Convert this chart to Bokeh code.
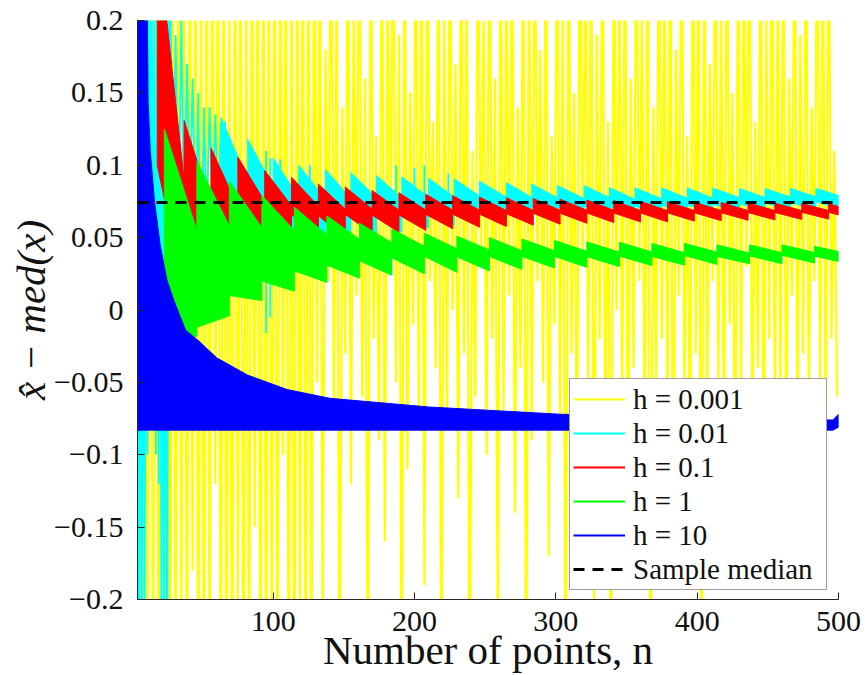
from bokeh.plotting import figure
from bokeh.models import (Range1d, FixedTicker, CustomJSTickFormatter, Span,
                          Legend, LegendItem)
from bokeh.embed import file_html
from bokeh.resources import INLINE

# ---------------- data ----------------
x_start, x_end = 4, 500
y_start, y_end = -0.2, 0.2
x_ticks = [100, 200, 300, 400, 500]
y_ticks = [-0.2, -0.15, -0.1, -0.05, 0, 0.05, 0.1, 0.15, 0.2]
series_labels = ["h = 0.001", "h = 0.01", "h = 0.1", "h = 1", "h = 10", "Sample median"]
x_title = "Number of points, n"
y_title = "x\u0302 \u2212 med(x)"
median_value = 0.0743

# h = 0.001 : strongly oscillating estimate (one value every 2nd n from n = 5)
yellow_v = [
    0.30, -0.30, 0.30, -0.30, 0.30, -0.28, 0.30, -0.30, 0.30, -0.25,
    0.30, -0.30, 0.28, -0.30, 0.30, -0.22, 0.30, -0.30, 0.30, -0.18,
    0.30, -0.30, 0.26, -0.30, 0.30, -0.26, 0.30, -0.12, 0.30, -0.30,
    0.30, -0.30, 0.22, -0.30, 0.30, -0.20, 0.30, -0.30, 0.24, -0.30,
    0.30, -0.15, 0.30, -0.30, 0.30, -0.30, 0.27, -0.24, 0.30, -0.30,
    0.30, -0.10, 0.30, -0.30, 0.25, -0.30, 0.30, -0.21, 0.30, -0.30,
    0.30, -0.30, 0.30,
    -0.05, 0.30, -0.22, 0.18, 0.02, 0.30, -0.08, 0.25, -0.30, 0.14,
    -0.03, 0.30, -0.12, 0.22, 0.01, 0.30, -0.06, 0.16, -0.30, 0.30,
    -0.02, 0.12, -0.09, 0.30, -0.16, 0.24, 0.03, 0.30, -0.05, 0.19,
    -0.30, 0.30, -0.11, 0.15, -0.01, 0.30, -0.07, 0.27, -0.19, 0.30,
    0.02, 0.13, -0.04, 0.30, -0.30, 0.21, -0.08, 0.30, 0.00, 0.17,
    -0.13, 0.30, -0.03, 0.25, -0.30, 0.11, -0.06, 0.30, 0.03, 0.20,
    -0.10, 0.30, -0.02, 0.16, -0.25, 0.30, -0.07, 0.23, 0.01, 0.30,
    -0.14, 0.14, -0.04, 0.30, -0.30, 0.26, -0.09, 0.30, 0.02, 0.18,
    -0.05, 0.30, -0.17, 0.12, -0.01, 0.30, -0.08, 0.22, -0.30, 0.30,
    -0.03, 0.15, -0.12, 0.30, 0.03, 0.27, -0.06, 0.30, -0.21, 0.19,
    -0.02, 0.30, -0.10, 0.13, -0.30, 0.30, 0.00, 0.24, -0.07, 0.30,
    -0.15, 0.16, -0.04, 0.30, 0.02, 0.21, -0.11, 0.30, -0.30, 0.14,
    -0.05, 0.30, -0.02, 0.25, -0.09, 0.30, -0.18, 0.18, 0.01, 0.30,
    -0.06, 0.12, -0.13, 0.30, -0.03, 0.28, -0.30, 0.30, -0.08, 0.17,
    0.02, 0.30, -0.05, 0.22, -0.11, 0.30, -0.01, 0.15, -0.16, 0.30,
    -0.07, 0.26, 0.03, 0.30, -0.10, 0.13, -0.04, 0.30, -0.14, 0.20,
    -0.02, 0.30, -0.08, 0.24, -0.06, 0.30, -0.12, 0.16, 0.01, 0.30,
    -0.09, 0.19, -0.03, 0.30, -0.07, 0.14, 0.02, 0.30, -0.05, 0.27,
    -0.11, 0.30, -0.02, 0.11, -0.06,
]
yellow_n = list(range(5, 5 + 2 * len(yellow_v), 2))

# h = 0.01 : early oscillation, then saw-tooth band
cyan_early_n = [4, 5, 6, 7, 8, 9, 10, 11, 12, 13, 14, 15, 16, 17, 18, 19, 20, 21,
                22, 23, 24, 25, 26, 27]
cyan_early_v = [0.3, -0.3, 0.3, -0.3, 0.3, -0.3, 0.3, -0.1, 0.3, -0.05, 0.3, -0.08,
                0.25, -0.1, 0.22, -0.12, 0.24, -0.3, 0.23, -0.3, 0.3, -0.3, 0.25, 0.1]
cyan_zig_n = [27, 29, 31, 33, 35, 37, 39, 41, 43, 45, 47, 49, 51, 53, 55, 57, 59, 61, 63]
cyan_zig_v = [0.25, 0.06, 0.19, 0.05, 0.20, 0.06, 0.17, 0.07, 0.16, 0.05, 0.15, -0.01,
              0.14, 0.06, 0.14, 0.07, 0.135, 0.06, 0.13]
cyan_start = [63, 82, 100, 118, 137, 155, 173, 191, 210, 228, 246, 265,
              283, 301, 320, 338, 356, 375, 393, 411, 430, 448, 466, 484]
cyan_top0 = [0.133, 0.118, 0.105, 0.100, 0.097, 0.095, 0.093, 0.092,
             0.091, 0.0906, 0.089, 0.088, 0.087, 0.086, 0.086, 0.0845, 0.0844,
             0.0844, 0.0843, 0.0842, 0.084, 0.084, 0.084, 0.084]
cyan_top1 = [0.090, 0.085, 0.078, 0.077, 0.077, 0.0776, 0.0774,
             0.0779, 0.0781, 0.0788, 0.078, 0.0778, 0.0775, 0.077, 0.0776, 0.0765,
             0.0768, 0.0772, 0.0774, 0.0776, 0.0777, 0.078, 0.0782, 0.0791]
cyan_bot0 = [0.062, 0.063, 0.060, 0.062, 0.064, 0.066, 0.067, 0.068,
             0.0696, 0.071, 0.0707, 0.071, 0.0711, 0.071, 0.072, 0.0712, 0.0718,
             0.0724, 0.0728, 0.0732, 0.0735, 0.074, 0.0743, 0.0747]
cyan_bot1 = [0.035, 0.040, 0.040, 0.044, 0.048, 0.0516, 0.0538, 0.0565,
             0.0584, 0.0605, 0.061, 0.0619, 0.0625, 0.063, 0.0643, 0.0639, 0.0648,
             0.0657, 0.0664, 0.0671, 0.0677, 0.0683, 0.0689, 0.0701]
cyan_spike_n = [66, 95, 98, 105, 126, 187, 200, 207, 224]
cyan_spike_lo = [0.05, -0.016, -0.005, 0.04, 0.05, 0.05, 0.07, 0.07, 0.075]
cyan_spike_hi = [0.13, 0.11, 0.105, 0.104, 0.1, 0.1, 0.098, 0.1, 0.094]

# h = 0.1
red_start = [18, 37, 56, 75, 94, 113, 132, 151, 170, 189, 208, 227, 246, 265, 284,
             303, 322, 341, 360, 379, 398, 417, 436, 455, 474, 493]
red_top0 = [0.26, 0.131, 0.112, 0.1056, 0.0964, 0.0917, 0.087, 0.085, 0.0826, 0.081,
            0.080, 0.079, 0.078, 0.0775, 0.077, 0.0765, 0.076, 0.0755, 0.075, 0.0748,
            0.0745, 0.0742, 0.074, 0.0738, 0.0736, 0.0734]
red_top1 = [0.09, 0.073, 0.071, 0.075, 0.072, 0.0717, 0.0696, 0.0698, 0.069, 0.069,
            0.069, 0.069, 0.0687, 0.0688, 0.0689, 0.0689, 0.0689, 0.0688, 0.0686,
            0.0687, 0.0687, 0.0687, 0.0687, 0.0687, 0.0687, 0.0715]
red_bot0 = [0.10, 0.053, 0.060, 0.067, 0.066, 0.066, 0.065, 0.066, 0.0656, 0.0657,
            0.066, 0.0662, 0.0662, 0.0665, 0.0668, 0.0669, 0.067, 0.067, 0.067,
            0.0671, 0.0672, 0.0672, 0.0673, 0.0674, 0.0675, 0.0675]
red_bot1 = [0.012, 0.021, 0.032, 0.044, 0.046, 0.0497, 0.0506, 0.0528, 0.0537, 0.055,
            0.0562, 0.0572, 0.0577, 0.0586, 0.0593, 0.0599, 0.0604, 0.0608, 0.0609,
            0.0614, 0.0617, 0.062, 0.0623, 0.0626, 0.0628, 0.0657]

# h = 1
green_start = [23, 46, 69, 92, 115, 138, 161, 184, 207, 230, 253, 276, 299, 322,
               345, 368, 391, 414, 437, 460, 483]
green_top0 = [0.125, 0.103, 0.089, 0.079, 0.071, 0.065, 0.060, 0.056, 0.053, 0.051,
              0.050, 0.049, 0.048, 0.047, 0.0468, 0.046, 0.046, 0.045, 0.045, 0.045,
              0.044]
green_top1 = [0.055, 0.058, 0.057, 0.055, 0.052, 0.049, 0.0465, 0.044, 0.0424, 0.0415,
              0.041, 0.041, 0.0406, 0.040, 0.040, 0.0396, 0.040, 0.0393, 0.0396,
              0.0398, 0.0404]
green_bot0 = [-0.025, -0.012, 0.010, 0.020, 0.027, 0.031, 0.034, 0.036, 0.037, 0.0367,
              0.037, 0.037, 0.037, 0.0368, 0.0372, 0.037, 0.0376, 0.037, 0.0374,
              0.0378, 0.0372]
green_bot1 = [-0.018, -0.004, 0.0065, 0.013, 0.019, 0.022, 0.024, 0.025, 0.026, 0.027,
              0.028, 0.029, 0.0295, 0.030, 0.0307, 0.031, 0.0315, 0.032, 0.032,
              0.0325, 0.0335]

# h = 10 : envelope of the dense band
blue_n = [4, 10.5, 11.5, 13, 16, 20, 25, 30, 38, 47, 60, 82, 110, 140, 210, 303,
          400, 496, 498, 500]
blue_top = [0.3, 0.25, 0.144, 0.11, 0.075, 0.045, 0.02, 0.006, -0.014, -0.021,
            -0.033, -0.045, -0.055, -0.061, -0.067, -0.072, -0.0745, -0.076,
            -0.074, -0.072]
blue_bot = [-0.083, -0.083, -0.083, -0.083, -0.083, -0.083, -0.083, -0.083, -0.083,
            -0.083, -0.083, -0.083, -0.083, -0.083, -0.083, -0.083, -0.083, -0.083,
            -0.082, -0.081]

YELLOW, CYAN, RED, GREEN, BLUE = "#FFFF00", "#00FFFF", "#FF0000", "#00FF00", "#0000FF"
SERIF = "Liberation Serif"
TEXT = "#111111"
NAN = float("nan")


def teeth(starts, t0, t1, b0, b1, end):
    xs, ys = [], []
    for k in range(len(starts)):
        a = starts[k]
        b = starts[k + 1] if k + 1 < len(starts) else end
        xs.append([a, b, b, a])
        ys.append([t0[k], t1[k], b1[k], b0[k]])
    return xs, ys


p = figure(width=868, height=675, output_backend="svg", toolbar_location=None,
           x_range=Range1d(x_start, x_end), y_range=Range1d(y_start, y_end),
           min_border_left=137, min_border_right=30, min_border_top=20,
           min_border_bottom=76, background_fill_color="white",
           border_fill_color="white")
p.outline_line_color = None
p.grid.visible = False

# yellow
p.line(yellow_n, yellow_v, color=YELLOW, line_width=2.2)
# cyan
p.line(cyan_early_n, cyan_early_v, color=CYAN, line_width=1.8)
p.line(cyan_zig_n, cyan_zig_v, color=CYAN, line_width=1.8)
cx, cy = teeth(cyan_start, cyan_top0, cyan_top1, cyan_bot0, cyan_bot1, x_end)
p.patches(cx, cy, fill_color=CYAN, line_color=CYAN, line_width=1)
p.segment(x0=cyan_spike_n, y0=cyan_spike_lo, x1=cyan_spike_n, y1=cyan_spike_hi,
          color=CYAN, line_width=1.8)
# red
rx, ry = teeth(red_start, red_top0, red_top1, red_bot0, red_bot1, x_end)
p.patches(rx, ry, fill_color=RED, line_color=RED, line_width=1)
# green
gx, gy = teeth(green_start, green_top0, green_top1, green_bot0, green_bot1, x_end)
p.patches(gx, gy, fill_color=GREEN, line_color=GREEN, line_width=1)
# blue
p.patch(blue_n + blue_n[::-1], blue_top + blue_bot[::-1], fill_color=BLUE,
        line_color=BLUE, line_width=1)
# sample median
p.add_layout(Span(location=median_value, dimension="width", line_color="black",
                  line_width=3, line_dash="11 8"))

# axes
for ax in (p.xaxis[0], p.yaxis[0]):
    ax.axis_line_color = "#262626"
    ax.major_tick_line_color = "#262626"
    ax.major_tick_in = 7
    ax.major_tick_out = 0
    ax.minor_tick_line_color = None
    ax.major_label_text_font = SERIF
    ax.major_label_text_font_size = "30px"
    ax.major_label_text_color = TEXT
    ax.axis_label_text_font = SERIF
    ax.axis_label_text_font_size = "41px"
    ax.axis_label_text_color = TEXT
p.xaxis.ticker = FixedTicker(ticks=x_ticks)
p.yaxis.ticker = FixedTicker(ticks=y_ticks)
p.xaxis.major_label_standoff = 12
p.yaxis.major_label_standoff = 14
p.yaxis.formatter = CustomJSTickFormatter(code="""
    const s = (Math.round(tick * 100) / 100).toString();
    return tick < 0 ? '\u2212' + s.slice(1) : s;
""")
p.xaxis.axis_label = x_title
p.xaxis.axis_label_text_font_style = "normal"
p.xaxis.axis_label_standoff = -7
p.yaxis.axis_label = y_title
p.yaxis.axis_label_text_font_style = "italic"
p.yaxis.axis_label_standoff = -3

# legend (proxy lines carry no visible points)
def proxy(color, width, dash="solid"):
    return p.line([x_start, x_end], [NAN, NAN], color=color, line_width=width,
                  line_dash=dash)

proxies = [proxy(YELLOW, 2), proxy(CYAN, 2), proxy(RED, 2), proxy(GREEN, 2),
           proxy(BLUE, 2), proxy("black", 3, "11 8")]
items = [LegendItem(label=lab, renderers=[r]) for lab, r in zip(series_labels, proxies)]
legend = Legend(items=items, location=(432, 9), label_text_font=SERIF,
                label_text_font_size="29px", label_text_color=TEXT,
                glyph_width=52, glyph_height=34, label_height=34, label_width=190,
                label_standoff=8, spacing=0, padding=3, margin=0,
                border_line_color="#404040", border_line_width=1,
                background_fill_color="white", background_fill_alpha=1)
p.add_layout(legend)

open("out.html", "w").write(file_html(p, INLINE))
